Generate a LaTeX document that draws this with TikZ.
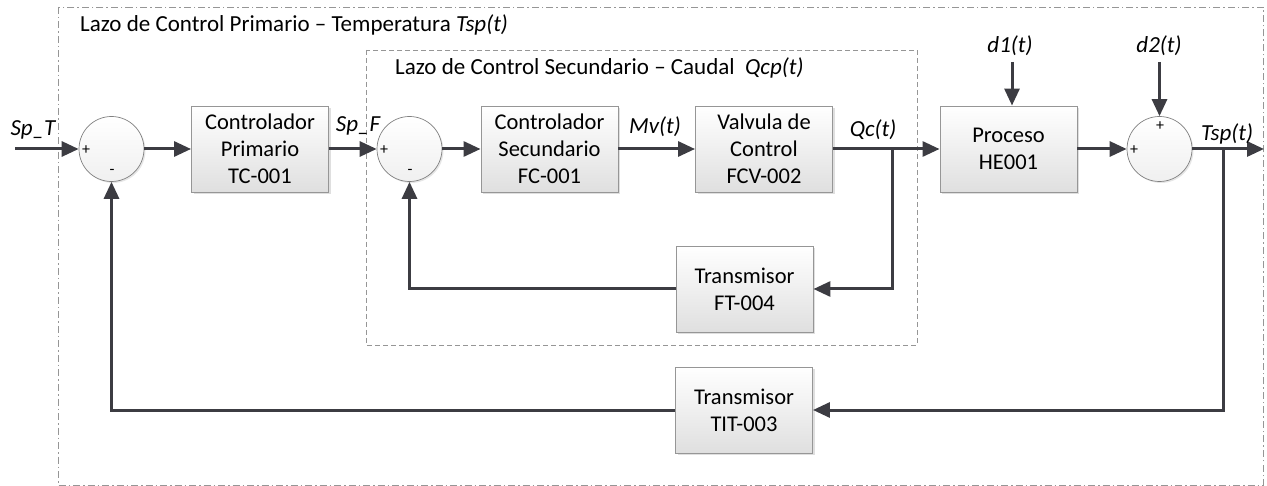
\documentclass[tikz,border=0pt]{standalone}
\usepackage{fontspec}
\setmainfont{Carlito}
\usetikzlibrary{arrows.meta,shadows,calc}
\definecolor{wire}{RGB}{60,60,66}
\definecolor{boxedge}{RGB}{150,150,150}
\definecolor{frame}{RGB}{150,150,150}
\begin{document}
\begin{tikzpicture}[x=1pt,y=-1pt,
  blk/.style={rectangle, draw=boxedge, line width=0.9pt, minimum width=137pt,
    minimum height=86pt, align=center, inner sep=2pt,
    font=\fontsize{22.5}{27}\selectfont, top color=white, bottom color=gray!25,
    drop shadow={shadow xshift=2pt, shadow yshift=-2pt, opacity=0.25}},
  sumn/.style={circle, draw=gray, line width=0.7pt, minimum size=65pt,
    inner sep=0pt, top color=white, bottom color=gray!12,
    drop shadow={shadow xshift=1.5pt, shadow yshift=-1.5pt, opacity=0.2}},
  wireln/.style={draw=wire, line width=3pt},
  flow/.style={wireln, -{Triangle[length=17pt,width=15pt]}},
  sig/.style={font=\fontsize{23}{26}\selectfont\itshape, anchor=base, inner sep=0pt},
  sgn/.style={font=\fontsize{16}{17}\selectfont, inner sep=0pt},
  ttl/.style={font=\fontsize{23}{26}\selectfont, anchor=base west, inner sep=0pt},
  outerframe/.style={draw=frame, line width=0.9pt, dash pattern=on 7pt off 3pt on 1.5pt off 3pt},
  innerframe/.style={draw=frame, line width=0.9pt, dash pattern=on 5pt off 3pt},
]
\useasboundingbox (0,0) rectangle (1267,486);

% loop frames
\draw[outerframe] (58,7) rectangle (1263,485);
\draw[innerframe] (366,50) rectangle (917,345);
\node[ttl] (ttlA) at (80,32) {Lazo de Control Primario -- Temperatura \textit{Tsp(t)}};
\node[ttl] (ttlB) at (395,75) {Lazo de Control Secundario -- Caudal\ \ \textit{Qcp(t)}};

% blocks
\node[blk] (tc)   at (260,149)    {Controlador\\Primario\\TC-001};
\node[blk] (fc)   at (549.5,149)  {Controlador\\Secundario\\FC-001};
\node[blk] (fcv)  at (764,149)    {Valvula de\\Control\\FCV-002};
\node[blk] (proc) at (1008.5,149) {Proceso\\HE001};
\node[blk] (ft)   at (744.5,289)  {Transmisor\\FT-004};
\node[blk] (tit)  at (744,410)    {Transmisor\\TIT-003};

% summing junctions
\node[sumn] (s1) at (111.5,149) {};
\node[sumn] (s2) at (409.5,149) {};
\node[sumn] (s3) at (1159.5,149) {};
\node[sgn] (s1p) at (86,150) {+};
\node[sgn] (s1m) at (112,172) {-};
\node[sgn] (s2p) at (384,150) {+};
\node[sgn] (s2m) at (410,172) {-};
\node[sgn] (s3p) at (1134,150) {+};
\node[sgn] (s3t) at (1160,126) {+};

% free ends and branch points
\coordinate (spin) at (15,149);
\coordinate (yout) at (1264,149);
\coordinate (qtap) at (892,149);
\coordinate (ttap) at (1223,149);
\coordinate (d1top) at (1012,62);
\coordinate (d2top) at (1159.5,62);

% forward path
\draw[flow] (spin) -- (s1.west);
\draw[flow] (s1.east) -- (tc.west);
\draw[flow] (tc.east) -- (s2.west);
\draw[flow] (s2.east) -- (fc.west);
\draw[flow] (fc.east) -- (fcv.west);
\draw[flow] (fcv.east) -- (proc.west);
\draw[flow] (proc.east) -- (s3.west);
\draw[flow] (s3.east) -- (yout);
\draw[flow] (d1top) -- (d1top |- proc.north);
\draw[flow] (d2top) -- (s3.north);

% feedback paths
\draw[flow] (qtap) |- (ft.east);
\draw[flow] (ft.west) -| (s2.south);
\draw[flow] (ttap) |- (tit.east);
\draw[flow] (tit.west) -| (s1.south);

% signal labels
\node[sig] (lspt) at (33,136)   {Sp\_T};
\node[sig] (lspf) at (358,132)  {Sp\_F};
\node[sig] (lmv)  at (655,134)  {Mv(t)};
\node[sig] (lqc)  at (873,137)  {Qc(t)};
\node[sig] (ltsp) at (1227,141) {Tsp(t)};
\node[sig] (ld1)  at (1010,53)  {d1(t)};
\node[sig] (ld2)  at (1159,53)  {d2(t)};
\end{tikzpicture}
\end{document}
